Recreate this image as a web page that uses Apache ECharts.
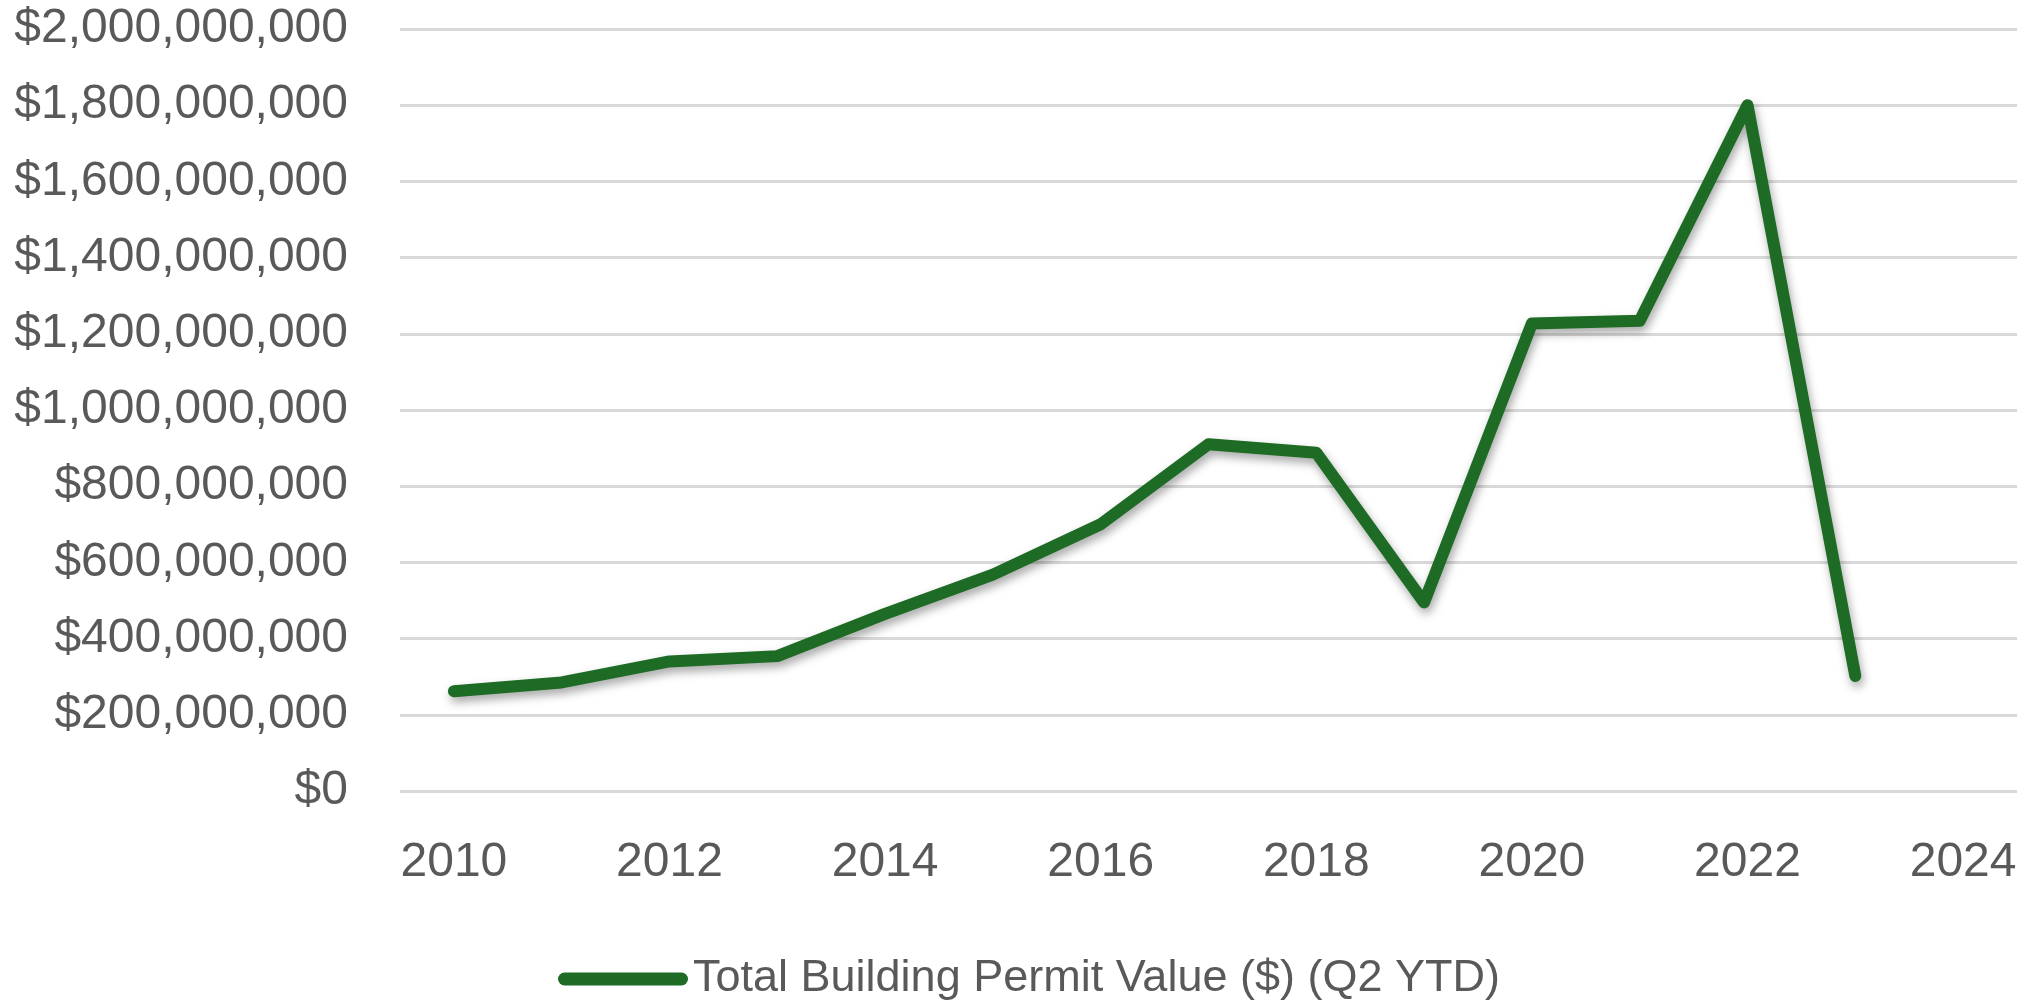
<!DOCTYPE html>
<html>
<head>
<meta charset="utf-8">
<script src="https://cdn.jsdelivr.net/npm/echarts@6/dist/echarts.min.js"></script>
<style>
	html, body { margin: 0; padding: 0; background: #fff; }
	#chart { width: 2036px; height: 1000px; }
</style>
</head>
<body>
<div id="chart"></div>
<script>
var years = ['2010', '2011', '2012', '2013', '2014', '2015', '2016',
	'2017', '2018', '2019', '2020', '2021', '2022', '2023', '2024'];
var permitValue = [262000000, 285000000, 340000000, 354000000, 465000000,
	568000000, 700000000, 910000000, 888000000, 495000000, 1227000000,
	1234000000, 1800000000, 302000000, '-'];
var seriesName = 'Total Building Permit Value ($) (Q2 YTD)';

var myChart = echarts.init(document.getElementById('chart'));

var option = {
	animation: false,
	textStyle: {
		fontFamily: '"Liberation Sans", Arial, sans-serif'
	},
	grid: {
		left: 400,
		right: 19,
		top: 29,
		bottom: 209
	},
	legend: {
		data: [seriesName],
		left: 558,
		top: 956,
		padding: 0,
		itemWidth: 130,
		itemHeight: 13,
		icon: 'path://M6.5,0 H123.5 A6.5,6.5 0 0 1 123.5,13 H6.5 A6.5,6.5 0 0 1 6.5,0 Z',
		textStyle: {
			fontSize: 45,
			lineHeight: 46,
			color: '#595959'
		}
	},
	xAxis: {
		type: 'category',
		data: years,
		boundaryGap: true,
		axisLine: { show: false },
		axisTick: { show: false },
		axisLabel: {
			interval: 1,
			margin: 48,
			fontSize: 48,
			color: '#595959'
		}
	},
	yAxis: {
		type: 'value',
		min: 0,
		max: 2000000000,
		interval: 200000000,
		axisLine: { show: false },
		axisTick: { show: false },
		axisLabel: {
			margin: 52,
			fontSize: 48,
			color: '#595959',
			formatter: function(v) {
				return '$' + v.toLocaleString('en-US');
			}
		},
		splitLine: {
			lineStyle: {
				color: '#d9d9d9',
				width: 3
			}
		}
	},
	series: [{
		name: seriesName,
		type: 'line',
		data: permitValue,
		showSymbol: false,
		symbol: 'none',
		color: '#1d6b24',
		lineStyle: {
			width: 12,
			color: '#1d6b24',
			cap: 'round',
			join: 'round',
			shadowColor: 'rgba(0, 0, 0, 0.35)',
			shadowBlur: 10,
			shadowOffsetX: 2,
			shadowOffsetY: 5
		}
	}]
};
myChart.setOption(option);
</script>
</body>
</html>
